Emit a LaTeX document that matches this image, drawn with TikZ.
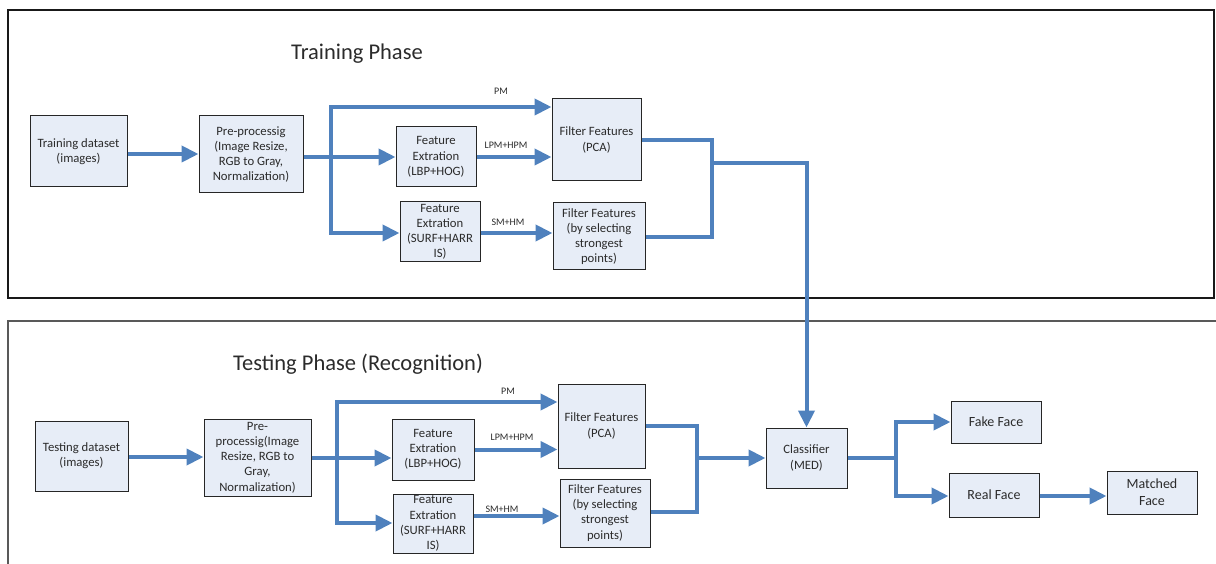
\documentclass[tikz,border=0pt]{standalone}
\usepackage{fontspec}
\setmainfont{Carlito}
\usetikzlibrary{arrows.meta}
\definecolor{arr}{HTML}{4F81BD}
\definecolor{boxfill}{HTML}{E7EDF7}
\definecolor{ink}{HTML}{2B2B2B}
\begin{document}
\begin{tikzpicture}[x=1pt,y=-1pt,
 box/.style={draw=black!85, line width=1pt, fill=boxfill, text=ink, align=center, inner sep=0pt, font=\fontsize{12.7}{15.2}\selectfont},
 bigbox/.style={box, font=\fontsize{14}{17}\selectfont},
 flow/.style={draw=arr, line width=4pt, -{Triangle[length=17pt,width=16pt]}},
 joinline/.style={draw=arr, line width=4pt},
 lbl/.style={font=\fontsize{10}{12}\selectfont, inner sep=0pt, text=ink},
 ttl/.style={font=\fontsize{22.5}{27}\selectfont, inner sep=0pt, text=ink},
 frame/.style={draw=black!90, line width=1.2pt}]
\useasboundingbox (0,0) rectangle (1216,564);
% frames
\draw[frame] (8,10) rectangle (1214,298);
\draw[frame, draw=black!65] (8,570) -- (8,321) -- (1216,321);
% titles
\node[ttl] (t1) at (357,54) {Training Phase};
\node[ttl] (t2) at (358,364) {Testing Phase (Recognition)};
% ---------- training ----------
\node[box, minimum width=97pt, minimum height=71pt] (td1) at (78.5,151.5) {Training dataset\\(images)};
\node[box, minimum width=104pt, minimum height=77pt] (pp1) at (251,154.5) {Pre-processig\\(Image Resize,\\RGB to Gray,\\Normalization)};
\node[box, minimum width=80pt, minimum height=60pt] (fe1a) at (436,157) {Feature\\Extration\\(LBP+HOG)};
\node[box, minimum width=80pt, minimum height=60pt] (fe1b) at (440,232) {Feature\\Extration\\(SURF+HARR\\IS)};
\node[box, minimum width=89pt, minimum height=82pt] (fp1) at (596.5,140) {Filter Features\\(PCA)};
\node[box, minimum width=92pt, minimum height=67pt] (fs1) at (599,236.5) {Filter Features\\(by selecting\\strongest\\points)};
\coordinate (b1t) at (331,107);
\coordinate (b1b) at (331,233);
\coordinate (m1t) at (712,140);
\coordinate (m1b) at (712,237);
\coordinate (m1c) at (712,163);
\draw[flow] (td1.east |- 0,154) -- (pp1.west |- 0,154);
\draw[flow] (pp1.east |- fe1a) -- (fe1a.west);
\draw[flow] (b1b) -- (b1t) -- (fp1.west |- b1t);
\draw[flow] (b1t) -- (b1b) -- (fe1b.west |- b1b);
\draw[flow] (fe1a.east) -- (fp1.west |- fe1a.east);
\draw[flow] (fe1b.east |- b1b) -- (fs1.west |- b1b);
\node[lbl] (pm1) at (501,91) {PM};
\node[lbl] (lh1) at (506,145) {LPM+HPM};
\node[lbl] (sh1) at (508,222) {SM+HM};
\draw[joinline] (fp1.east) -- (m1t) -- (m1b) -- (fs1.east |- m1b);
% ---------- testing ----------
\node[box, minimum width=93pt, minimum height=70pt] (td2) at (81.5,456) {Testing dataset\\(images)};
\node[box, minimum width=107pt, minimum height=77pt] (pp2) at (257.5,457.5) {Pre-\\processig(Image\\Resize, RGB to\\Gray,\\Normalization)};
\node[box, minimum width=82pt, minimum height=61pt] (fe2a) at (433,449.5) {Feature\\Extration\\(LBP+HOG)};
\node[box, minimum width=80pt, minimum height=59pt] (fe2b) at (433,523.5) {Feature\\Extration\\(SURF+HARR\\IS)};
\node[box, minimum width=87pt, minimum height=84pt] (fp2) at (601.5,426) {Filter Features\\(PCA)};
\node[box, minimum width=90pt, minimum height=68pt] (fs2) at (605,513) {Filter Features\\(by selecting\\strongest\\points)};
\node[box, minimum width=81pt, minimum height=60pt] (cls) at (806.5,458) {Classifier\\(MED)};
\node[bigbox, minimum width=90pt, minimum height=42pt] (fake) at (996,422) {Fake Face};
\node[bigbox, minimum width=90pt, minimum height=44pt] (real) at (994,495) {Real Face};
\node[bigbox, minimum width=90pt, minimum height=43pt] (match) at (1152,492.5) {Matched\\Face};
\coordinate (b2t) at (337,402);
\coordinate (b2b) at (337,523);
\coordinate (m2t) at (697,426);
\coordinate (m2b) at (697,512);
\coordinate (m2c) at (697,458);
\coordinate (c1) at (896,458);
\draw[flow] (td2.east |- 0,457) -- (pp2.west |- 0,457);
\draw[flow] (pp2.east |- 0,458) -- (fe2a.west |- 0,458);
\draw[flow] (b2b) -- (b2t) -- (fp2.west |- b2t);
\draw[flow] (b2t) -- (b2b) -- (fe2b.west |- b2b);
\draw[flow] (fe2a.east) -- (fp2.west |- fe2a.east);
\draw[flow] (fe2b.east |- 0,516) -- (fs2.west |- 0,516);
\node[lbl] (pm2) at (508,391) {PM};
\node[lbl] (lh2) at (512,437) {LPM+HPM};
\node[lbl] (sh2) at (502,509) {SM+HM};
\draw[joinline] (fp2.east) -- (m2t) -- (m2b) -- (fs2.east |- m2b);
\draw[flow] (m2c) -- (cls.west);
% training -> classifier
\draw[flow] (m1c) -- (cls.north |- m1c) -- (cls.north);
% classifier outputs
\draw[joinline] (cls.east) -- (c1);
\draw[flow] (c1) -- (c1 |- fake) -- (fake.west);
\draw[flow] (c1) -- (c1 |- 0,496) -- (real.west |- 0,496);
\draw[flow] (real.east |- 0,496) -- (match.west |- 0,496);
\end{tikzpicture}
\end{document}
